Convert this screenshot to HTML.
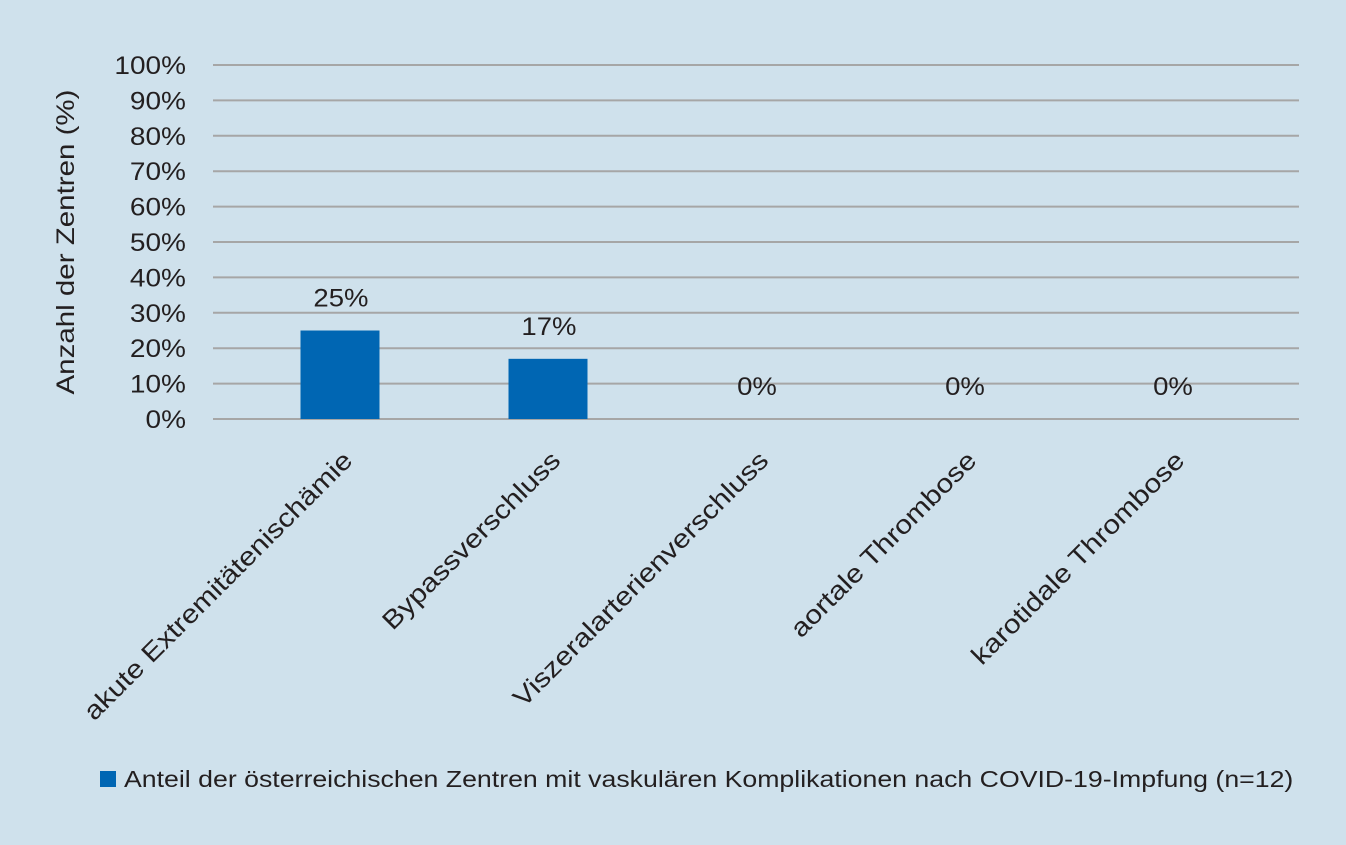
<!DOCTYPE html>
<html><head><meta charset="utf-8"><style>
body{margin:0;background:#cfe1ec;}
svg{display:block;font-family:"Liberation Sans",sans-serif;}
</style></head><body>
<svg id="c" width="1346" height="845">
<rect width="1346" height="845" fill="#cfe1ec"/>
<g id="grid"></g><g id="bars"></g><g id="labels"></g>
<text class="st" data-f="1.18" transform="translate(74,242) rotate(-90)" text-anchor="middle" font-size="25" fill="#231f20">Anzahl der  Zentren (%)</text>
<rect x="100" y="771" width="16" height="16" fill="#0066b3"/>
<text class="st" data-f="1.16" x="124" y="787" font-size="23" fill="#231f20">Anteil der österreichischen Zentren mit vaskulären Komplikationen nach COVID-19-Impfung (n=12)</text>
</svg>
<script>
const categories=["akute Extremitätenischämie","Bypassverschluss","Viszeralarterienverschluss","aortale Thrombose","karotidale Thrombose"];
const values=[25,17,0,0,0];
const valueLabels=["25%","17%","0%","0%","0%"];
const ticks=[0,10,20,30,40,50,60,70,80,90,100];
const NS="http://www.w3.org/2000/svg";
const y=v=>419-v*3.54;
const x=i=>340+208*i;
function mk(t,a,p){const e=document.createElementNS(NS,t);for(const k in a)e.setAttribute(k,a[k]);p.appendChild(e);return e;}
const g=document.getElementById('grid'),b=document.getElementById('bars'),l=document.getElementById('labels');
ticks.forEach(t=>{
 const ln=mk('line',{x1:213,x2:1299,y1:y(t),y2:y(t),stroke:'#a6a6a6','stroke-width':2},g);
 
 
 const tx=mk('text',{x:186,y:y(t)+9,'text-anchor':'end','font-size':25,fill:'#231f20',class:'st','data-f':1.12},g);
 tx.textContent=t+'%';
 
 
});
categories.forEach((c,i)=>{
 const r=mk('rect',{x:x(i)-39.5,y:y(values[i]),width:79,height:419-y(values[i]),fill:'#0066b3'},b);
 
 
 const v=mk('text',{x:x(i)+1,y:y(values[i])-24,'text-anchor':'middle','font-size':25,fill:'#231f20',class:'st','data-f':1.1},l);
 v.textContent=valueLabels[i];
 
 
 const ct=mk('text',{transform:`translate(${x(i)+14},${462}) rotate(-45)`,'text-anchor':'end','font-size':26,fill:'#231f20',class:'st','data-f':1.15},l);
 ct.textContent=c;
 
 
});
document.querySelectorAll('.st').forEach(e=>{
 const w=e.getComputedTextLength();
 e.setAttribute('textLength',(w*parseFloat(e.getAttribute('data-f'))).toFixed(1));
 e.setAttribute('lengthAdjust','spacingAndGlyphs');
});
</script>
</body></html>
